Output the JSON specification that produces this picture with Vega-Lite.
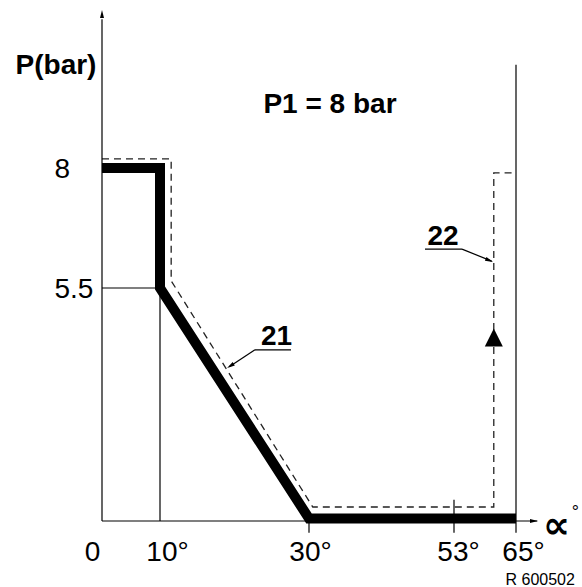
{
  "$schema": "https://vega.github.io/schema/vega-lite/v6.json",
  "width": 480,
  "height": 521,
  "autosize": {"type": "none"},
  "padding": {"left": 102, "top": 0, "right": 0, "bottom": 66},
  "background": "white",
  "config": {"view": {"stroke": null}, "font": "Liberation Sans"},
  "encoding": {
    "x": {
      "field": "x",
      "type": "quantitative",
      "scale": {"type": "linear", "domain": [0, 10, 30, 53, 65], "range": [0, 58, 207, 352, 414], "zero": false, "nice": false},
      "axis": {
        "values": [0, 10, 30, 53, 65],
        "labelExpr": "datum.value == 0 ? '0' : datum.value + '°'",
        "domain": false,
        "ticks": false,
        "tickSize": 0,
        "grid": false,
        "labelFont": "Liberation Sans",
        "labelFontSize": 28,
        "labelColor": "#000",
        "labelBaseline": "alphabetic",
        "labelPadding": 39,
        "labelOverlap": false,
        "labelBound": false,
        "labelFlush": false,
        "labelOffset": {"condition": [{"test": "datum.value == 0", "value": -10}, {"test": "datum.value == 30", "value": 1}, {"test": "datum.value == 53", "value": 4}], "value": 7},
        "title": "∝",
        "titleFont": "DejaVu Sans",
        "titleFontSize": 38,
        "titleFontWeight": "bold",
        "titleColor": "#000",
        "titleX": 454,
        "titleY": 16,
        "titleAlign": "center",
        "titleBaseline": "alphabetic",
        "titleAngle": 0
      }
    },
    "y": {
      "field": "y",
      "type": "quantitative",
      "scale": {"type": "linear", "domain": [0, 5.5, 8], "range": [521, 288, 168], "zero": false, "nice": false},
      "axis": {
        "values": [5.5, 8],
        "labelExpr": "datum.value == 8 ? '8' : '5.5'",
        "domain": false,
        "ticks": false,
        "tickSize": 0,
        "grid": false,
        "labelFont": "Liberation Sans",
        "labelFontSize": 28,
        "labelColor": "#000",
        "labelAlign": "left",
        "labelBaseline": "alphabetic",
        "labelPadding": 48,
        "labelOffset": 9,
        "labelOverlap": false,
        "labelBound": false,
        "labelFlush": false,
        "title": "P(bar)",
        "titleFont": "Liberation Sans",
        "titleFontSize": 28,
        "titleFontWeight": "bold",
        "titleColor": "#000",
        "titleAngle": 0,
        "titleX": -46.5,
        "titleY": 73,
        "titleAlign": "center",
        "titleBaseline": "alphabetic"
      }
    }
  },
  "layer": [
    {
      "data": {"values": [
        {"i": 0, "x": 0, "y": 8.19},
        {"i": 1, "x": 11.5, "y": 8.19},
        {"i": 2, "x": 11.5, "y": 5.65},
        {"i": 3, "x": 30.6, "y": 0.33},
        {"i": 4, "x": 60.7, "y": 0.33},
        {"i": 5, "x": 60.7, "y": 7.9},
        {"i": 6, "x": 65, "y": 7.9}
      ]},
      "mark": {"type": "line", "color": "#222", "strokeWidth": 1.3, "strokeDash": [7, 5], "strokeJoin": "miter"},
      "encoding": {"order": {"field": "i", "type": "quantitative"}}
    },
    {
      "data": {"values": [
        {"x": 0, "y": 0, "x2": 0, "y2": 11.1},
        {"x": 0, "y": 0, "x2": 69.1, "y2": 0},
        {"x": 10, "y": 0, "x2": 10, "y2": 5.5},
        {"x": 0, "y": 5.5, "x2": 10, "y2": 5.5},
        {"x": 30, "y": 0, "x2": 30, "y2": -0.28},
        {"x": 53, "y": 0.5, "x2": 53, "y2": -0.28},
        {"x": 65, "y": 10.15, "x2": 65, "y2": -0.28},
        {"x": 22.75, "y": 4.04, "x2": 27.58, "y2": 4.04},
        {"x": 22.75, "y": 4.04, "x2": 19.3, "y2": 3.64},
        {"x": 48.4, "y": 6.31, "x2": 54.55, "y2": 6.31},
        {"x": 54.55, "y": 6.31, "x2": 60.3, "y2": 6.06}
      ]},
      "mark": {"type": "rule", "color": "#000", "strokeWidth": 1.2},
      "encoding": {
        "x2": {"field": "x2"},
        "y2": {"field": "y2"}
      }
    },
    {
      "data": {"values": [
        {"i": 0, "x": 0, "y": 8},
        {"i": 1, "x": 10, "y": 8},
        {"i": 2, "x": 10, "y": 5.5},
        {"i": 3, "x": 30, "y": 0.06},
        {"i": 4, "x": 65, "y": 0.06}
      ]},
      "mark": {"type": "line", "color": "#000", "strokeWidth": 10, "strokeJoin": "miter", "strokeCap": "butt", "strokeMiterLimit": 10},
      "encoding": {"order": {"field": "i", "type": "quantitative"}}
    },
    {
      "data": {"values": [{"x": 60.7, "y": 4.33}]},
      "mark": {"type": "point", "shape": "M0,-1L1,1L-1,1Z", "size": 324, "filled": true, "color": "#000", "opacity": 1, "strokeWidth": 0}
    },
    {
      "data": {"values": [{"x": 0, "y": 11.29}]},
      "mark": {"type": "point", "shape": "M0,0L0.5,2L-0.5,2Z", "size": 64, "filled": true, "color": "#000", "opacity": 1, "strokeWidth": 0, "angle": 0}
    },
    {
      "data": {"values": [{"x": 69.26, "y": 0}]},
      "mark": {"type": "point", "shape": "M0,0L0.5,2L-0.5,2Z", "size": 64, "filled": true, "color": "#000", "opacity": 1, "strokeWidth": 0, "angle": 90}
    },
    {
      "data": {"values": [{"x": 19.0, "y": 3.61}]},
      "mark": {"type": "point", "shape": "M0,0L0.5,2L-0.5,2Z", "size": 64, "filled": true, "color": "#000", "opacity": 1, "strokeWidth": 0, "angle": 237}
    },
    {
      "data": {"values": [{"x": 60.55, "y": 6.04}]},
      "mark": {"type": "point", "shape": "M0,0L0.5,2L-0.5,2Z", "size": 64, "filled": true, "color": "#000", "opacity": 1, "strokeWidth": 0, "angle": 113}
    },
    {
      "data": {"values": [
        {"x": 33.33, "y": 9.15, "t": "P1 = 8 bar"},
        {"x": 25.64, "y": 4.15, "t": "21"},
        {"x": 51.26, "y": 6.4, "t": "22"}
      ]},
      "mark": {"type": "text", "font": "Liberation Sans", "fontSize": 28, "fontWeight": "bold", "align": "center", "baseline": "alphabetic", "color": "#000"},
      "encoding": {"text": {"field": "t"}}
    },
    {
      "data": {"values": [{"x": 76.4, "y": -1.51, "t": "R 600502"}]},
      "mark": {"type": "text", "font": "Liberation Sans", "fontSize": 16, "align": "right", "baseline": "alphabetic", "color": "#000"},
      "encoding": {"text": {"field": "t"}}
    },
    {
      "data": {"values": [{"x": 75.8, "y": 0.07, "t": "°"}]},
      "mark": {"type": "text", "font": "Liberation Sans", "fontSize": 18, "align": "left", "baseline": "alphabetic", "color": "#000"},
      "encoding": {"text": {"field": "t"}}
    }
  ]
}
